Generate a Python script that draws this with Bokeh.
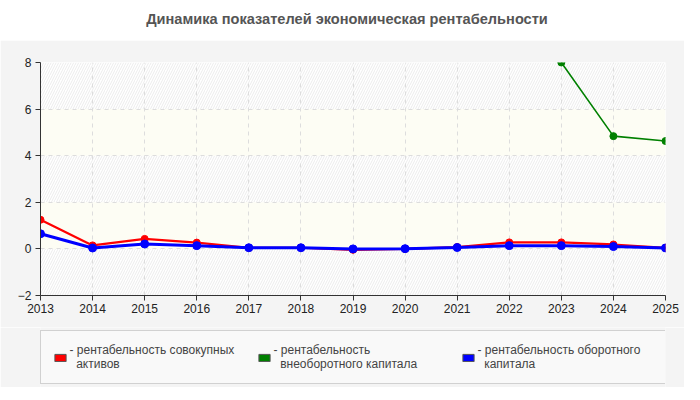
from bokeh.plotting import figure
from bokeh.models import BoxAnnotation, Div, FixedTicker, Legend, LegendItem
from bokeh.layouts import column
from bokeh.embed import file_html
from bokeh.resources import INLINE

title_text = "Динамика показателей экономическая рентабельности"
years = list(range(2013, 2026))
assets = [1.25, 0.15, 0.43, 0.27, 0.05, 0.05, -0.04, 0.0, 0.08, 0.28, 0.28, 0.19, 0.05]
current = [0.65, 0.04, 0.21, 0.14, 0.05, 0.05, 0.0, 0.01, 0.06, 0.14, 0.14, 0.10, 0.04]
noncur_years = [2023, 2024, 2025]
noncurrent = [8.0, 4.84, 4.63]
y_ticks = [-2, 0, 2, 4, 6, 8]
labels = [
    "- рентабельность совокупных\n  активов",
    "- рентабельность\n  внеоборотного капитала",
    "- рентабельность оборотного\n  капитала",
]
colors = ["#ff0000", "#008000", "#0000ff"]

FONT = "Liberation Sans"
PANEL = "#f4f4f4"

title = Div(text=title_text, width=684, height=30,
            styles={"font-family": FONT, "font-weight": "bold", "font-size": "14.6px",
                    "color": "#555555", "text-align": "center", "width": "684px",
                    "padding-top": "4px"})

p = figure(width=684, height=287, x_range=(2013, 2025), y_range=(-2, 8),
           output_backend="svg", toolbar_location=None,
           min_border_left=40, min_border_right=19, min_border_top=22, min_border_bottom=32)
p.border_fill_color = PANEL
p.background_fill_color = "#ffffff"
p.outline_line_color = None

for lo, hi in [(6, 8), (2, 4), (-2, 0)]:
    p.add_layout(BoxAnnotation(bottom=lo, top=hi, fill_color="#ffffff", fill_alpha=1,
                               line_color=None, hatch_pattern="/",
                               hatch_color="#ececec", hatch_scale=5, hatch_weight=1,
                               level="image"))
for lo, hi in [(4, 6), (0, 2)]:
    p.add_layout(BoxAnnotation(bottom=lo, top=hi, fill_color="#fdfdf4", fill_alpha=1,
                               line_color=None, level="image"))

p.xaxis.ticker = FixedTicker(ticks=years)
p.yaxis.ticker = FixedTicker(ticks=y_ticks)
for ax in (p.xaxis, p.yaxis):
    ax.axis_line_color = "#333333"
    ax.major_tick_line_color = "#333333"
    ax.major_tick_in = 0
    ax.major_tick_out = 5
    ax.minor_tick_line_color = None
    ax.major_label_text_font = FONT
    ax.major_label_text_font_size = "12px"
    ax.major_label_text_color = "#222222"
p.xaxis.major_label_standoff = 3
p.yaxis.major_label_standoff = 4

p.grid.grid_line_color = "#dddddd"
p.grid.grid_line_dash = "4 4"
p.grid.grid_line_width = 1

p.line(years, assets, line_color=colors[0], line_width=2.2)
p.scatter(years, assets, size=7, fill_color=colors[0], line_color=colors[0])
p.line(noncur_years, noncurrent, line_color=colors[1], line_width=1.6)
p.scatter(noncur_years, noncurrent, size=7, fill_color=colors[1], line_color=colors[1])
p.line(years, current, line_color=colors[2], line_width=3)
p.scatter(years, current, size=8, fill_color=colors[2], line_color=colors[2])

# legend panel (proxy glyphs lie outside this panel's view range)
q = figure(width=684, height=60, x_range=(0, 1), y_range=(0, 1),
           output_backend="svg", toolbar_location=None, min_border=0)
q.border_fill_color = PANEL
q.background_fill_color = PANEL
q.outline_line_color = None
q.axis.visible = False
q.grid.visible = False
proxies = [q.rect(x=years[:1], y=current[:1], width=1, height=1,
                  fill_color=c, line_color="#555555")
           for c in colors]
legend = Legend(items=[LegendItem(label=l, renderers=[r]) for l, r in zip(labels, proxies)],
                orientation="horizontal", location="center",
                glyph_width=14, glyph_height=9, label_standoff=3, label_width=175,
                spacing=12, padding=12, margin=0,
                label_text_font=FONT, label_text_font_size="12px",
                label_text_color="#444444",
                border_line_color="#aaaaaa", background_fill_color="#f9f9f9",
                background_fill_alpha=1)
q.add_layout(legend)

layout = column(title, p, q)
open("out.html", "w").write(file_html(layout, INLINE))
